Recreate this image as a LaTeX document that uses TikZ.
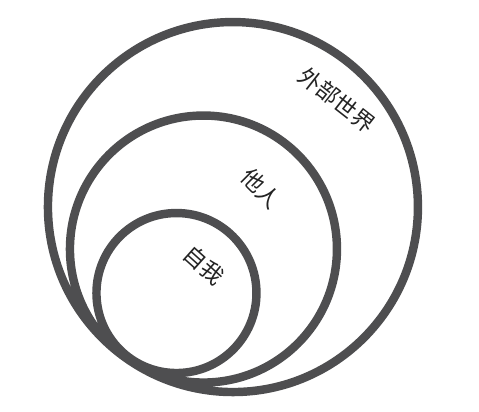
\documentclass[tikz,border=0pt]{standalone}
\usepackage{fontspec}
\newfontfamily\cjk{Noto Sans CJK SC}
\definecolor{ringgray}{RGB}{78,78,80}
\definecolor{labelink}{RGB}{35,35,35}
\begin{document}
\begin{tikzpicture}[scale=.025, font=\cjk\fontsize{16}{16}\selectfont, line cap=round, line join=round, ring/.style={draw=ringgray, line width=6pt}, lbl/.style={text=labelink, inner sep=0pt}]
\useasboundingbox (0,0) rectangle (479,412);
\path (233,205)coordinate(W) (203.5,163)coordinate(T) (176.5,119)coordinate(S);
\draw[ring] (W)circle(185) (T)circle(133.5) (S)circle(80);
\path (337,312)node[lbl, rotate=-38](world){外部世界} (261,224)node[lbl, rotate=-45](others){他人} (204,147)node[lbl, rotate=-42](self){自我};
\end{tikzpicture}
\end{document}
